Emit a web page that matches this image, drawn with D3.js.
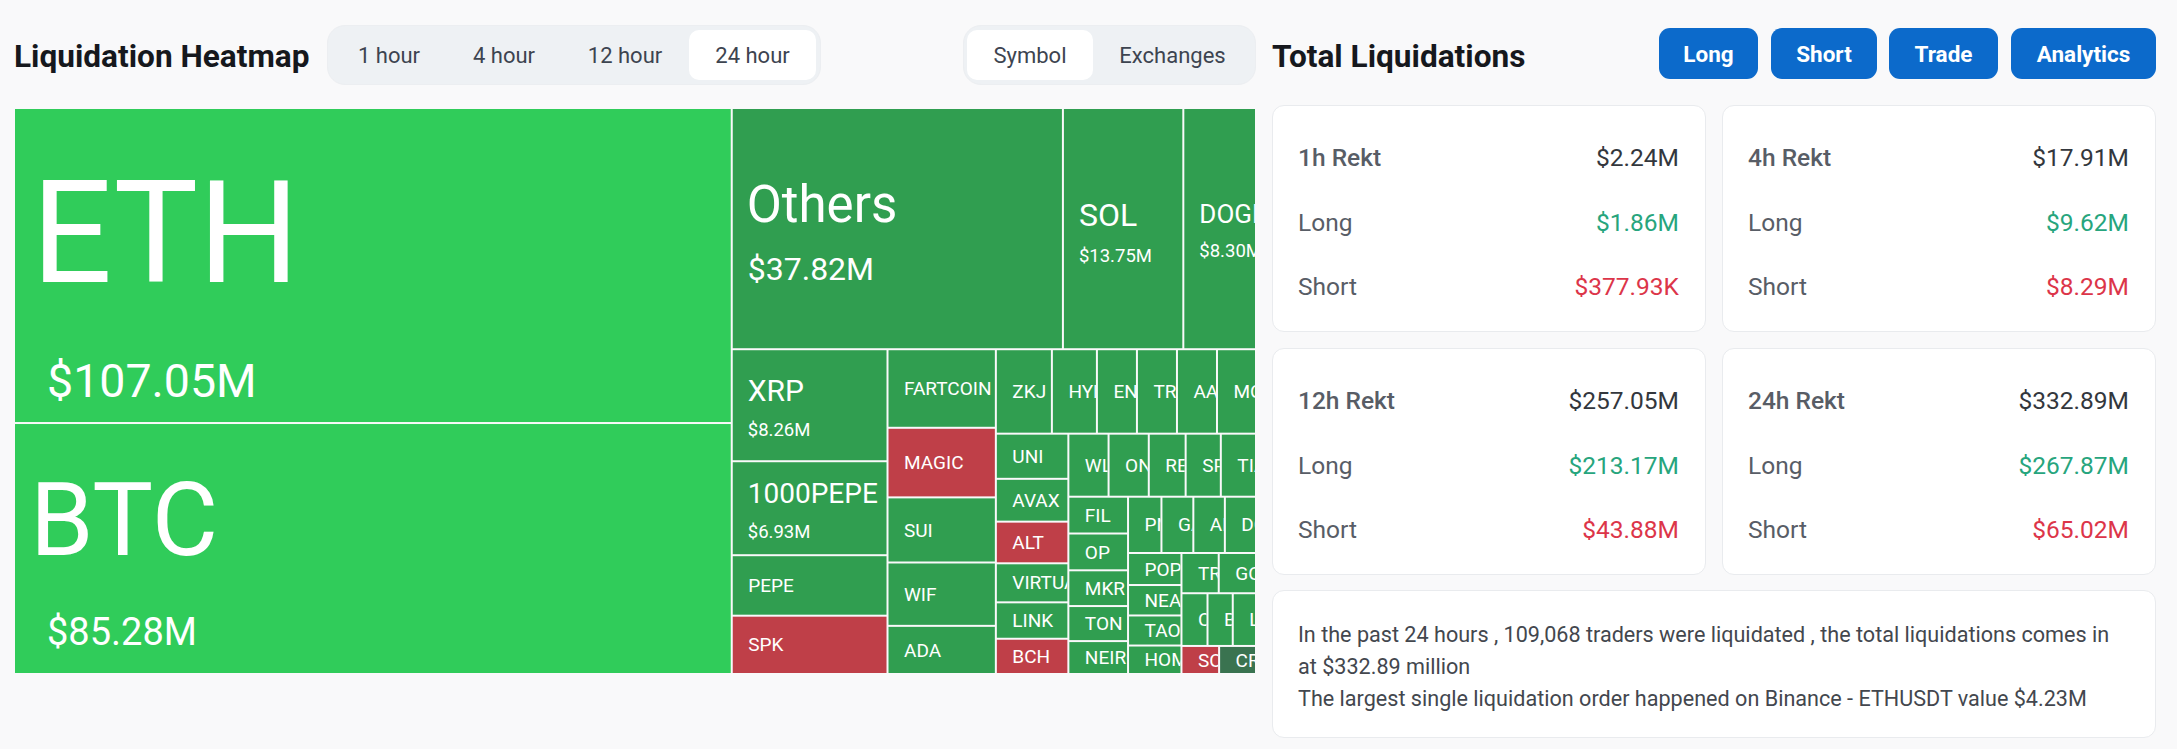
<!DOCTYPE html>
<html>
<head>
<meta charset="utf-8">
<title>Liquidation Heatmap</title>
<script src="https://cdn.jsdelivr.net/npm/d3@7"></script>
<style>
  html, body { margin: 0; padding: 0; background: #f9f9fa; }
  body { width: 2177px; height: 749px; position: relative; overflow: hidden; font-family: Roboto, sans-serif; }
  .abs { position: absolute; box-sizing: border-box; }
  .title { font-weight: 700; font-size: 31.6px; color: #16181d; white-space: nowrap; line-height: 36px; }
  .pill { background: #eef1f4; border: 1px solid #eceef1; border-radius: 18px; }
  .tab { border-radius: 10px; font-size: 22px; color: #3d4450; display: flex; align-items: center; justify-content: center; }
  .tab.on { background: #fff; }
  .btn { background: #0c6acb; color: #fff; border-radius: 11px; font-size: 22.5px; font-weight: 700; display: flex; align-items: center; justify-content: center; }
  .card { background: #fff; border: 1px solid #e9ebee; border-radius: 12px; }
  .row { font-size: 24.5px; line-height: 28px; white-space: nowrap; }
  .lbl { color: #585d66; }
  .lbl.head { font-weight: 500; }
  .val { color: #33373d; text-align: right; }
  .long { color: #27a57d; }
  .short { color: #dc3549; }
  .note { font-size: 21.6px; line-height: 32px; color: #43474e; white-space: nowrap; }
  #heat text { fill: #fff; font-family: Roboto, sans-serif; }
</style>
</head>
<body>
<script>
// treemap data, $M
var symbols = ['ETH','BTC','Others','SOL','DOGE','XRP','1000PEPE','PEPE','SPK','FARTCOIN','MAGIC','SUI','WIF','ADA',
  'ZKJ','HYPE','ENA','TRUMP','AAVE','MOODENG','UNI','AVAX','ALT','VIRTUAL','LINK','BCH',
  'WLD','ONDO','RENDER','SPX','TIA','FIL','OP','MKR','TON','NEIRO',
  'PNUT','GALA','ARB','DOT','POPCAT','NEAR','TAO','HOME','TRB','GOAT','CAKE','BNB','LTC','SOPH','CRV'];
var liquidated = [107.05,85.28,37.82,13.75,8.30,8.26,6.93,4.46,4.30,4.03,3.57,3.34,3.25,2.47,
  2.24,1.80,1.60,1.60,1.60,1.56,1.55,1.47,1.43,1.34,1.25,1.21,
  1.20,1.20,1.10,1.05,1.05,1.04,1.04,1.01,0.99,0.93,
  0.89,0.85,0.84,0.83,0.81,0.77,0.76,0.72,0.71,0.71,0.65,0.63,0.58,0.50,0.49];
var shortHeavy = ['MAGIC','SPK','ALT','BCH','SOPH'];
var flat = ['CRV'];
var strong = ['ETH','BTC'];

// side panel data
var periods = ['1 hour','4 hour','12 hour','24 hour'];
var groupings = ['Symbol','Exchanges'];
var links = ['Long','Short','Trade','Analytics'];
var rektNames = ['1h Rekt','4h Rekt','12h Rekt','24h Rekt'];
var rektTotal = ['$2.24M','$17.91M','$257.05M','$332.89M'];
var rektLong = ['$1.86M','$9.62M','$213.17M','$267.87M'];
var rektShort = ['$377.93K','$8.29M','$43.88M','$65.02M'];
var noteLines = ['In the past 24 hours , 109,068 traders were liquidated , the total liquidations comes in',
  'at $332.89 million',
  'The largest single liquidation order happened on Binance - ETHUSDT value $4.23M'];

var map = {x: 15, y: 109, w: 1240, h: 564};

// [name size, value size, name dy, value dy, name pad, value pad] from the cell centre
var bigLabels = {
  'ETH': [142, 46.5, 16, 131, 16.5, 32],
  'BTC': [102, 38, 6, 96, 15, 32],
  'Others': [51, 32, -7, 51.5, 14, 15],
  'SOL': [32, 18.5, -2.5, 33.5, 15, 15],
  'DOGE': [26, 18.5, -5.5, 28.5, 15, 15],
  'XRP': [30, 18.5, -4.3, 31, 15, 15],
  '1000PEPE': [28, 18.5, -5, 29.5, 15, 15]
};

var heatColor = function(name) {
  if (strong.indexOf(name) >= 0) return '#30cc5a';
  if (shortHeavy.indexOf(name) >= 0) return '#bf3f48';
  if (flat.indexOf(name) >= 0) return '#3a7350';
  return '#309e50';
};

var drawHeatmap = function() {
  var rows = symbols.map(function(s, i) { return {name: s, value: liquidated[i]}; });
  var root = d3.hierarchy({children: rows})
    .sum(function(d) { return d.value; })
    .sort(function(a, b) { return b.value - a.value; });

  d3.treemap()
    .tile(d3.treemapSquarify)
    .size([map.w, map.h])
    .paddingInner(2)(root);

  var svg = d3.select('body').append('svg')
    .attr('id', 'heat')
    .attr('class', 'abs')
    .style('left', map.x + 'px')
    .style('top', map.y + 'px')
    .attr('width', map.w)
    .attr('height', map.h);

  var cell = svg.selectAll('g')
    .data(root.leaves())
    .enter().append('g')
    .attr('transform', function(d) { return 'translate(' + d.x0 + ',' + d.y0 + ')'; });

  cell.append('rect')
    .attr('width', function(d) { return d.x1 - d.x0; })
    .attr('height', function(d) { return d.y1 - d.y0; })
    .attr('fill', function(d) { return heatColor(d.data.name); });

  cell.append('clipPath')
    .attr('id', function(d, i) { return 'clip' + i; })
    .append('rect')
    .attr('width', function(d) { return d.x1 - d.x0; })
    .attr('height', function(d) { return d.y1 - d.y0; });

  var label = cell.append('g')
    .attr('clip-path', function(d, i) { return 'url(#clip' + i + ')'; });

  label.each(function(d) {
    var g = d3.select(this);
    var cy = (d.y1 - d.y0) / 2;
    var big = bigLabels[d.data.name];
    if (big) {
      g.append('text').attr('x', big[4]).attr('y', cy + big[2]).attr('font-size', big[0]).text(d.data.name);
      g.append('text').attr('x', big[5]).attr('y', cy + big[3]).attr('font-size', big[1]).text('$' + d3.format('.2f')(d.data.value) + 'M');
    } else {
      g.append('text').attr('x', 15.5).attr('y', cy).attr('dy', '0.35em').attr('font-size', 19).text(d.data.name);
    }
  });
};

var box = function(cls, x, y, w, h) {
  return d3.select('body').append('div')
    .attr('class', 'abs ' + cls)
    .style('left', x + 'px').style('top', y + 'px')
    .style('width', w + 'px').style('height', h + 'px');
};

var drawHeader = function() {
  box('title', 14, 39, 320, 36).text('Liquidation Heatmap');
  box('title', 1272, 39, 300, 36).text('Total Liquidations');

  box('pill', 327, 25, 494, 60);
  var tabX = [340, 455, 569, 689];
  var tabW = [98, 98, 112, 127];
  periods.forEach(function(p, i) {
    box('tab' + (i == 3 ? ' on' : ''), tabX[i], 30, tabW[i], 50).text(p);
  });

  box('pill', 963, 25, 293, 60);
  box('tab on', 967, 30, 126, 50).text(groupings[0]);
  box('tab', 1093, 30, 159, 50).text(groupings[1]);

  var btnX = [1659, 1771, 1889, 2011];
  var btnW = [99, 106, 109, 145];
  links.forEach(function(l, i) {
    box('btn', btnX[i], 28, btnW[i], 51).text(l);
  });
};

var drawCards = function() {
  var cardX = [1272, 1722, 1272, 1722];
  var cardY = [105, 105, 348, 348];
  rektNames.forEach(function(n, i) {
    var x = cardX[i], y = cardY[i];
    box('card', x, y, 434, 227);
    var rowsY = [y + 39, y + 104, y + 168];
    var labels = [n, 'Long', 'Short'];
    var values = [rektTotal[i], rektLong[i], rektShort[i]];
    var tone = ['', ' long', ' short'];
    rowsY.forEach(function(ry, r) {
      box('row lbl' + (r == 0 ? ' head' : ''), x + 26, ry, 180, 28).text(labels[r]);
      box('row val' + tone[r], x + 207, ry, 200, 28).text(values[r]);
    });
  });

  box('card', 1272, 590, 884, 148);
  d3.select('body').selectAll('.noteline')
    .data(noteLines)
    .enter().append('div')
    .attr('class', 'abs note noteline')
    .style('left', '1298px')
    .style('top', function(d, i) { return (619 + i * 32) + 'px'; })
    .text(function(d) { return d; });
};

drawHeatmap();
drawHeader();
drawCards();
</script>
</body>
</html>
